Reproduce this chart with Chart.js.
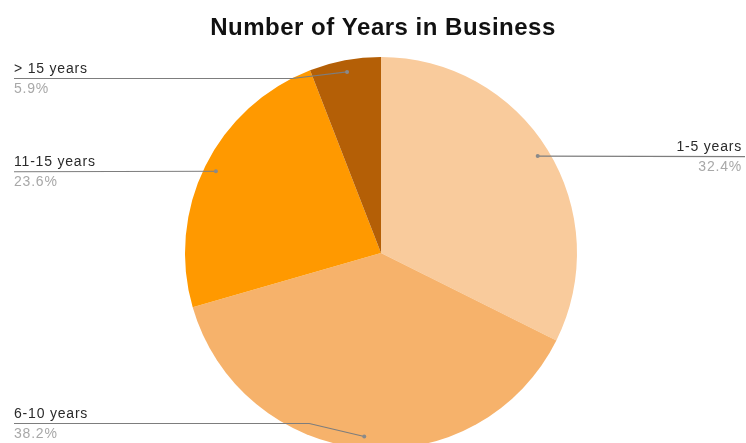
<!DOCTYPE html>
<html>
<head>
<meta charset="utf-8">
<script src="https://cdn.jsdelivr.net/npm/chart.js@4/dist/chart.umd.min.js"></script>
<style>
  html, body { margin: 0; padding: 0; background: #fff; overflow: hidden; }
  #wrap { width: 746px; height: 443px; overflow: hidden; }
</style>
</head>
<body>
<div id="wrap"><canvas id="pieCanvas" width="746" height="460"></canvas></div>
<script>
const chartTitle = "Number of Years in Business";
const categories = ["1-5 years", "6-10 years", "11-15 years", "> 15 years"];
const shares = [32.4, 38.2, 23.6, 5.9];
const sliceColors = ["#f9cb9c", "#f6b26b", "#ff9900", "#b45f06"];

// title drawn by hand so the pie can sit where we want it
const titlePlugin = {
    id: "titleText",
    afterDraw (chart) {
        const ctx = chart.ctx;
        ctx.save();
        ctx.font = "bold 24px 'Liberation Sans', Arial, sans-serif";
        ctx.fillStyle = "#111";
        ctx.textAlign = "center";
        ctx.textBaseline = "alphabetic";
        ctx.letterSpacing = "0.5px";
        ctx.fillText(chartTitle, 383, 35);
        ctx.restore();
    }
};

// leader lines with name + percent on the left/right edges
const leaderPlugin = {
    id: "leaders",
    afterDraw (chart) {
        const ctx = chart.ctx;
        const meta = chart.getDatasetMeta(0);
        ctx.save();
        meta.data.forEach((arc, i) => {
            const mid = (arc.startAngle + arc.endAngle) / 2;
            const r = arc.outerRadius * 0.94;
            const px = arc.x + Math.cos(mid) * r;
            const py = arc.y + Math.sin(mid) * r;
            const right = px > arc.x;
            const ly = Math.min(Math.max(py, 78), 423);
            const lineEdge = right ? 745 : 14;
            const textEdge = right ? 742 : 14;
            const bendX = right ? px + 40 : px - 55;

            ctx.strokeStyle = "#7d7d7d";
            ctx.lineWidth = 1.2;
            ctx.beginPath();
            ctx.moveTo(lineEdge, ly + 0.5);
            if (Math.abs(ly - py) > 2) {
                ctx.lineTo(bendX, ly + 0.5);
            }
            ctx.lineTo(px, py);
            ctx.stroke();

            ctx.fillStyle = "#8a8a8a";
            ctx.beginPath();
            ctx.arc(px, py, 2, 0, Math.PI * 2);
            ctx.fill();

            ctx.textAlign = right ? "right" : "left";
            ctx.letterSpacing = "0.8px";
            ctx.font = "14px 'Liberation Sans', Arial, sans-serif";
            ctx.fillStyle = "#2a2a2a";
            ctx.fillText(categories[i], textEdge, ly - 5);
            ctx.fillStyle = "#a8a8a8";
            ctx.fillText(shares[i].toFixed(1) + "%", textEdge, ly + 15);
        });
        ctx.restore();
    }
};

const pieChart = new Chart(document.getElementById("pieCanvas"), {
    type: "pie",
    data: {
        labels: categories,
        datasets: [{
            data: shares,
            backgroundColor: sliceColors,
            borderWidth: 0
        }]
    },
    options: {
        responsive: false,
        animation: false,
        layout: {
            padding: { left: 185, right: 169, top: 57, bottom: 11 }
        },
        plugins: {
            legend: { display: false },
            title: { display: false },
            tooltip: { enabled: false }
        }
    },
    plugins: [titlePlugin, leaderPlugin]
});
</script>
</body>
</html>
